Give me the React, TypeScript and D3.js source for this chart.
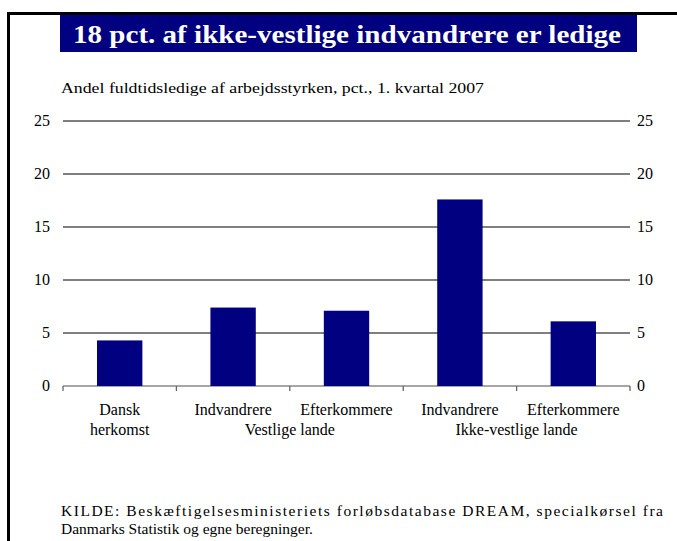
import * as d3 from "d3";

// Chart data
const categories = [
  "Dansk herkomst",
  "Indvandrere Vestlige",
  "Efterkommere Vestlige",
  "Indvandrere Ikke-vestlige",
  "Efterkommere Ikke-vestlige",
];
const categoryLines = [["Dansk", "herkomst"], ["Indvandrere"], ["Efterkommere"], ["Indvandrere"], ["Efterkommere"]];
const values = [4.3, 7.4, 7.1, 17.6, 6.1];
const groupLabels = ["Vestlige lande", "Ikke-vestlige lande"];
const groupSpans = [[1, 2], [3, 4]];
const yTicks = [0, 5, 10, 15, 20, 25];

const title = "18 pct. af ikke-vestlige indvandrere er ledige";
const subtitle = "Andel fuldtidsledige af arbejdsstyrken, pct., 1. kvartal 2007";
const sourceLines = [
  "KILDE: Beskæftigelsesministeriets forløbsdatabase DREAM, specialkørsel fra",
  "Danmarks Statistik og egne beregninger.",
];

const W = 677;
const H = 541;
const FONT = "Liberation Serif";

const left = 63;
const right = 630;
const top = 121;
const bottom = 386;

const x = d3.scaleBand<string>().domain(categories).range([left, right]).padding(0);
const y = d3.scaleLinear().domain([0, 25]).range([bottom, top]);
const bw = x.bandwidth() * 0.4;
const cx = (i: number) => (x(categories[i]) ?? 0) + x.bandwidth() / 2;

const App = () => {
  const tickXs = categories.map((c) => x(c) ?? 0).concat([right]);
  return (
    <svg width={W} height={H} style={{ position: "absolute", left: 0, top: 0, background: "#fff" }}>
      {/* frame */}
      <path d={`M8.5,${H} V13.5 H${W}`} fill="none" stroke="#000" strokeWidth={3} />

      {/* title banner */}
      <rect x={60} y={15} width={577} height={37} fill="#000080" />
      <text x={73} y={43} fill="#fff" fontFamily={FONT} fontWeight="bold" fontSize={26}
        textLength={548} lengthAdjust="spacingAndGlyphs">{title}</text>

      <text x={61} y={93} fontFamily={FONT} fontSize={15.5} textLength={423}
        lengthAdjust="spacingAndGlyphs">{subtitle}</text>

      {/* gridlines */}
      {yTicks.map((t) => (
        <line key={`g${t}`} x1={left} x2={right} y1={y(t)} y2={y(t)}
          stroke={t === 0 ? "#888" : "#555"} strokeWidth={1.3} />
      ))}

      {/* y labels both sides */}
      {yTicks.map((t) => (
        <text key={`l${t}`} x={50} y={y(t) + 5} textAnchor="end" fontFamily={FONT} fontSize={16}>{t}</text>
      ))}
      {yTicks.map((t) => (
        <text key={`r${t}`} x={637} y={y(t) + 5} textAnchor="start" fontFamily={FONT} fontSize={16}>{t}</text>
      ))}

      {/* bars */}
      {values.map((v, i) => (
        <rect key={`b${i}`} x={cx(i) - bw / 2} y={y(v)} width={bw} height={bottom - y(v)} fill="#000080" />
      ))}

      {/* category ticks */}
      {tickXs.map((tx, i) => (
        <line key={`t${i}`} x1={tx} x2={tx} y1={bottom} y2={bottom + 5} stroke="#666" strokeWidth={1.3} />
      ))}

      {/* category labels */}
      {categoryLines.map((lines, i) =>
        lines.map((ln, j) => (
          <text key={`c${i}-${j}`} x={cx(i)} y={415 + j * 20} textAnchor="middle" fontFamily={FONT} fontSize={16}>{ln}</text>
        ))
      )}
      {groupLabels.map((g, i) => {
        const [a, b] = groupSpans[i];
        return (
          <text key={`gr${i}`} x={(cx(a) + cx(b)) / 2} y={435} textAnchor="middle" fontFamily={FONT} fontSize={16}>{g}</text>
        );
      })}

      {/* source */}
      {sourceLines.map((ln, i) => (
        <text key={`s${i}`} x={61} y={516 + i * 18} fontFamily={FONT} fontSize={15.5}
          {...(i === 0 ? { textLength: 602, lengthAdjust: "spacing" } : {})}>{ln}</text>
      ))}
    </svg>
  );
};

export default App;
